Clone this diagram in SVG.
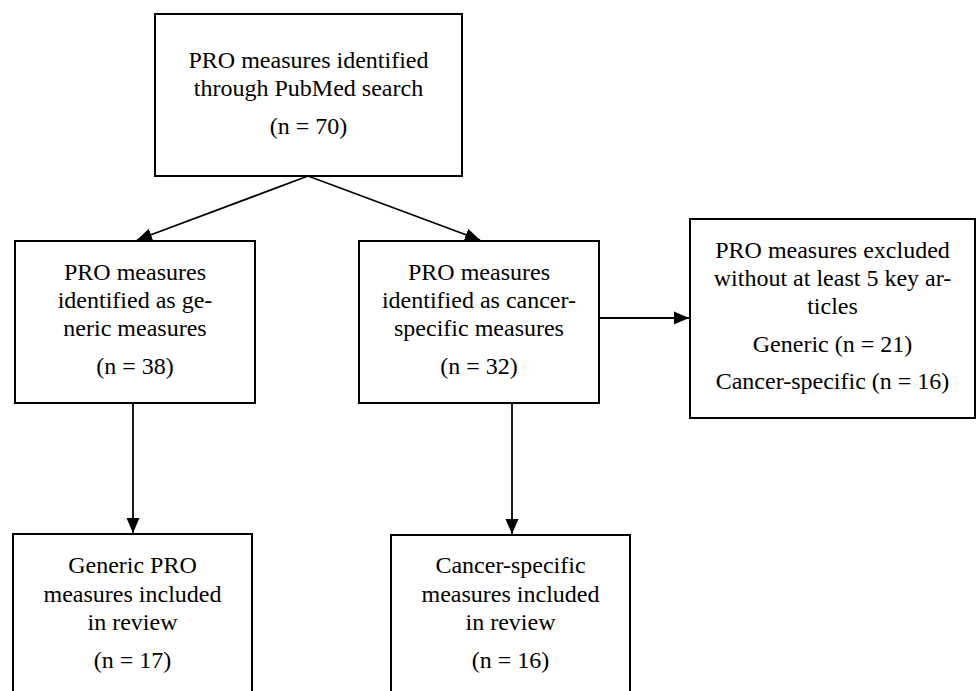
<svg xmlns="http://www.w3.org/2000/svg" width="976" height="691" viewBox="0 0 976 691">
<defs>
<style>
.box{fill:#fff;stroke:#000;stroke-width:2}
.t{font-family:"Liberation Serif","Times New Roman",serif;font-size:24px;fill:#000;text-anchor:middle}
.c{fill:none;stroke:#000;stroke-width:1.8}
</style>
<marker id="ah" markerUnits="userSpaceOnUse" markerWidth="16" markerHeight="14" refX="15" refY="7" orient="auto">
<path d="M0,0.5 L15,7 L0,13.5 Z" fill="#000"/>
</marker>
</defs>
<rect width="976" height="691" fill="#fff"/>
<g id="connectors">
<line class="c" x1="308" y1="176" x2="137" y2="240" marker-end="url(#ah)"/>
<line class="c" x1="308" y1="176" x2="480" y2="240" marker-end="url(#ah)"/>
<line class="c" x1="599" y1="318" x2="689" y2="318" marker-end="url(#ah)"/>
<line class="c" x1="133" y1="403" x2="133" y2="533" marker-end="url(#ah)"/>
<line class="c" x1="512" y1="403" x2="512" y2="534" marker-end="url(#ah)"/>
</g>
<g id="n-top">
<rect class="box" x="155" y="14" width="307" height="162"/>
<text class="t" x="308.5" y="68">PRO measures identified</text>
<text class="t" x="308.5" y="96">through PubMed search</text>
<text class="t" x="308.5" y="134">(n = 70)</text>
</g>
<g id="n-generic">
<rect class="box" x="15" y="241" width="240" height="162"/>
<text class="t" x="135" y="280">PRO measures</text>
<text class="t" x="135" y="308">identified as ge-</text>
<text class="t" x="135" y="336">neric measures</text>
<text class="t" x="135" y="374">(n = 38)</text>
</g>
<g id="n-cancer">
<rect class="box" x="359" y="241" width="240" height="162"/>
<text class="t" x="479" y="280">PRO measures</text>
<text class="t" x="479" y="308">identified as cancer-</text>
<text class="t" x="479" y="336">specific measures</text>
<text class="t" x="479" y="374">(n = 32)</text>
</g>
<g id="n-excluded">
<rect class="box" x="690" y="219" width="285" height="199"/>
<text class="t" x="832.5" y="258">PRO measures excluded</text>
<text class="t" x="832.5" y="286">without at least 5 key ar-</text>
<text class="t" x="832.5" y="314">ticles</text>
<text class="t" x="832.5" y="352">Generic (n = 21)</text>
<text class="t" x="832.5" y="389">Cancer-specific (n = 16)</text>
</g>
<g id="n-generic-included">
<path class="box" d="M13,695 V534 H252 V695"/>
<text class="t" x="132.5" y="573">Generic PRO</text>
<text class="t" x="132.5" y="602">measures included</text>
<text class="t" x="132.5" y="630">in review</text>
<text class="t" x="132.5" y="668">(n = 17)</text>
</g>
<g id="n-cancer-included">
<path class="box" d="M391,695 V535 H630 V695"/>
<text class="t" x="510.5" y="573">Cancer-specific</text>
<text class="t" x="510.5" y="602">measures included</text>
<text class="t" x="510.5" y="630">in review</text>
<text class="t" x="510.5" y="668">(n = 16)</text>
</g>
</svg>
